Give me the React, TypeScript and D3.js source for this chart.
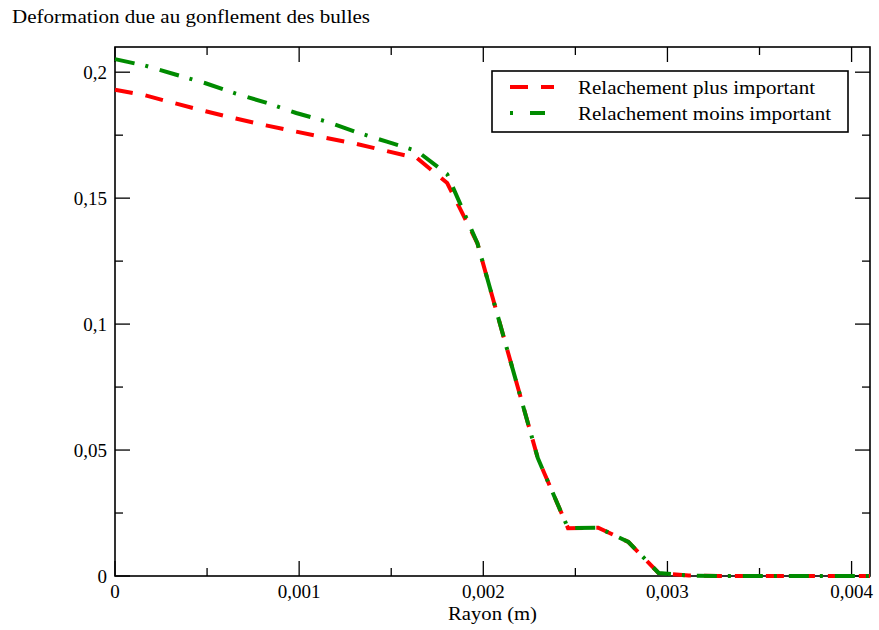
import React from "react";
import * as d3 from "d3";

const radius = [
  0, 0.000164, 0.000328, 0.000492, 0.000656, 0.00082, 0.000984, 0.001148, 0.001312,
  0.001476, 0.00164, 0.001804, 0.001968, 0.002132, 0.002296, 0.00246, 0.002624,
  0.002788, 0.002952, 0.003116, 0.00328, 0.003444, 0.003608, 0.003772, 0.003936, 0.0041,
];
const plusImportant = [
  0.193, 0.1908, 0.1876, 0.1845, 0.1816, 0.1789, 0.1764, 0.1739, 0.1715, 0.1687, 0.1659,
  0.156, 0.1321, 0.0893, 0.0468, 0.019, 0.0192, 0.0135, 0.0012, 0.0002, 0, 0, 0, 0, 0, 0,
];
const moinsImportant = [
  0.2052, 0.2026, 0.1991, 0.1956, 0.1915, 0.1879, 0.1838, 0.1804, 0.1762, 0.1724, 0.1687,
  0.1595, 0.1321, 0.0893, 0.0468, 0.019, 0.0192, 0.0135, 0.0012, 0.0002, 0, 0, 0, 0, 0, 0,
];
const xMajorTicks = [0, 0.001, 0.002, 0.003, 0.004];
const xMinorTicks = [0.0005, 0.0015, 0.0025, 0.0035];
const yMajorTicks = [0, 0.05, 0.1, 0.15, 0.2];
const yMinorTicks = [0.025, 0.075, 0.125, 0.175];
const seriesNames = ["Relachement plus important", "Relachement moins important"];
const title = "Deformation due au gonflement des bulles";
const xTitle = "Rayon (m)";

const W = 879;
const H = 630;
const L = 115, R = 870, T = 47, B = 576;
const FONT = "'Liberation Serif', 'Times New Roman', serif";

const fmt = (v: number) => (v === 0 ? "0" : String(+v.toFixed(4)).replace(".", ","));

export default function App() {
  const x = d3.scaleLinear().domain([0, 0.0041]).range([L, R]);
  const y = d3.scaleLinear().domain([0, 0.21]).range([B, T]);
  const line = d3
    .line<number>()
    .x((_, i) => x(radius[i]))
    .y((d) => y(d));

  const red = "#ff0000";
  const green = "#008b00";
  const majorLen = 15;
  const minorLen = 8;

  return (
    <svg
      width={W}
      height={H}
      style={{ position: "absolute", left: 0, top: 0, background: "#fff" }}
      fontFamily={FONT}
    >
      <rect x={0} y={0} width={W} height={H} fill="#fff" />
      <text x={12} y={22.5} fontSize={19} fill="#000" textLength={358} lengthAdjust="spacingAndGlyphs">
        {title}
      </text>

      {/* ticks */}
      <g stroke="#000" strokeWidth={1.3}>
        {xMajorTicks.map((t) => (
          <g key={"xm" + t}>
            <line x1={x(t)} x2={x(t)} y1={B} y2={B - majorLen} />
            <line x1={x(t)} x2={x(t)} y1={T} y2={T + majorLen} />
          </g>
        ))}
        {xMinorTicks.map((t) => (
          <g key={"xn" + t}>
            <line x1={x(t)} x2={x(t)} y1={B} y2={B - minorLen} />
            <line x1={x(t)} x2={x(t)} y1={T} y2={T + minorLen} />
          </g>
        ))}
        {yMajorTicks.map((t) => (
          <g key={"ym" + t}>
            <line x1={L} x2={L + majorLen} y1={y(t)} y2={y(t)} />
            <line x1={R} x2={R - majorLen} y1={y(t)} y2={y(t)} />
          </g>
        ))}
        {yMinorTicks.map((t) => (
          <g key={"yn" + t}>
            <line x1={L} x2={L + minorLen} y1={y(t)} y2={y(t)} />
            <line x1={R} x2={R - minorLen} y1={y(t)} y2={y(t)} />
          </g>
        ))}
      </g>
      <rect x={L} y={T} width={R - L} height={B - T} fill="none" stroke="#000" strokeWidth={1.6} />

      {/* tick labels */}
      <g fontSize={19} fill="#000">
        {xMajorTicks.map((t) => (
          <text key={"xl" + t} x={x(t)} y={598} textAnchor="middle">
            {fmt(t)}
          </text>
        ))}
        {yMajorTicks.map((t) => (
          <text key={"yl" + t} x={107} y={y(t) + 7} textAnchor="end">
            {fmt(t)}
          </text>
        ))}
        <text x={448} y={620} textLength={89} lengthAdjust="spacingAndGlyphs">
          {xTitle}
        </text>
      </g>

      {/* series */}
      <path
        d={line(plusImportant) || ""}
        fill="none"
        stroke={red}
        strokeWidth={4}
        strokeDasharray="18,13"
      />
      <path
        d={line(moinsImportant) || ""}
        fill="none"
        stroke={green}
        strokeWidth={4}
        strokeDasharray="20,11,3,12"
      />

      {/* legend */}
      <rect x={492} y={71} width={356} height={61} fill="#fff" stroke="#000" strokeWidth={1.6} />
      <line x1={510} x2={554} y1={87} y2={87} stroke={red} strokeWidth={4} strokeDasharray="18,13" />
      <line
        x1={510}
        x2={554}
        y1={113}
        y2={113}
        stroke={green}
        strokeWidth={4}
        strokeDasharray="3,17,15,12"
      />
      <g fontSize={19} fill="#000">
        <text x={578} y={93.5} textLength={237} lengthAdjust="spacingAndGlyphs">
          {seriesNames[0]}
        </text>
        <text x={578} y={119.5} textLength={253} lengthAdjust="spacingAndGlyphs">
          {seriesNames[1]}
        </text>
      </g>
    </svg>
  );
}
